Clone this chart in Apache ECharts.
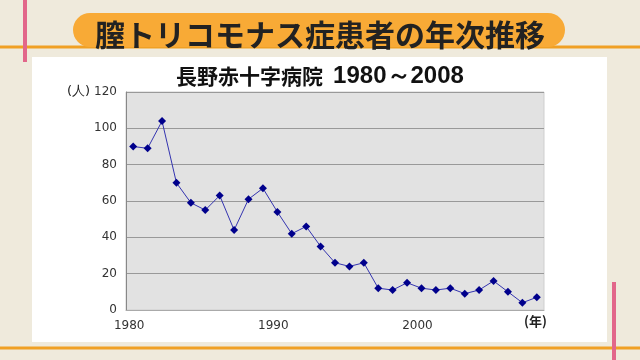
<!DOCTYPE html>
<html>
<head>
<meta charset="utf-8">
<script src="https://cdn.jsdelivr.net/npm/echarts@6/dist/echarts.min.js"></script>
<style>html,body{margin:0;padding:0;background:#efeadc;}#c{width:640px;height:360px;}</style>
</head>
<body>
<div id="c"></div>
<script>
const pageTitle = '膣トリコモナス症患者の年次推移';
const chartTitle = '長野赤十字病院';
const chartRange = '1980～2008';
const years = ['1980','1981','1982','1983','1984','1985','1986','1987','1988','1989','1990','1991','1992','1993','1994','1995','1996','1997','1998','1999','2000','2001','2002','2003','2004','2005','2006','2007','2008'];
const patients = [90, 89, 104, 70, 59, 55, 63, 44, 61, 67, 54, 42, 46, 35, 26, 24, 26, 12, 11, 15, 12, 11, 12, 9, 11, 16, 10, 4, 7];
const yUnit = '(人)';
const xUnit = '(年)';

const chart = echarts.init(document.getElementById('c'), null, {renderer: 'canvas'});
chart.setOption({
  backgroundColor: '#efeadc',
  animation: false,
  graphic: [
    {type: 'line', z: -20, shape: {x1: 0, y1: 47, x2: 640, y2: 47}, style: {stroke: '#f0a024', lineWidth: 3}},
    {type: 'line', z: -20, shape: {x1: 0, y1: 348, x2: 640, y2: 348}, style: {stroke: '#f0a024', lineWidth: 3}},
    {type: 'line', z: -20, shape: {x1: 25, y1: 0, x2: 25, y2: 62}, style: {stroke: '#e2668a', lineWidth: 4}},
    {type: 'line', z: -20, shape: {x1: 614, y1: 282, x2: 614, y2: 360}, style: {stroke: '#e2668a', lineWidth: 4}},
    {type: 'rect', z: -10, shape: {x: 32, y: 57, width: 575, height: 285}, style: {fill: '#ffffff'}},
    {type: 'rect', z: -10, shape: {x: 73, y: 13, width: 492, height: 34, r: 17}, style: {fill: '#f8aa36'}},
    {type: 'text', z: 5, left: 67, top: 85, style: {text: yUnit, font: '13px "DejaVu Sans"', fill: '#222'}},
    {type: 'text', z: 5, left: 524, top: 315, style: {text: xUnit, font: 'bold 13px "Noto Sans CJK JP"', fill: '#222'}}
  ],
  title: [
    {text: pageTitle, left: 'center', top: 13, textStyle: {fontFamily: 'Noto Sans CJK JP', fontWeight: 'bold', fontSize: 30, color: '#222', lineHeight: 34}},
    {text: '{a|' + chartTitle + '}  {b|' + chartRange + '}', left: 'center', top: 59,
     textStyle: {rich: {a: {fontFamily: 'Noto Sans CJK JP', fontWeight: 'bold', fontSize: 21, color: '#111'}, b: {fontFamily: 'Liberation Sans', fontSize: 24, color: '#111'}}}}
  ],
  grid: {left: 126, right: 96, top: 92, bottom: 50, show: true, backgroundColor: '#e2e2e2', borderColor: '#cfcfcf', borderWidth: 1},
  xAxis: {
    type: 'category', data: years, boundaryGap: true,
    axisTick: {show: false},
    axisLine: {lineStyle: {color: '#aaa', width: 1}},
    axisLabel: {interval: (i) => i % 10 === 0, margin: 10, padding: [0, 8, 0, 0], fontFamily: 'DejaVu Sans', fontSize: 12, color: '#333'}
  },
  yAxis: {
    type: 'value', min: 0, max: 120, interval: 20,
    axisLine: {show: true, lineStyle: {color: '#888', width: 1}},
    axisTick: {show: false},
    splitLine: {lineStyle: {color: '#999', width: 1}},
    axisLabel: {margin: 9, fontFamily: 'DejaVu Sans', fontSize: 12, color: '#333'}
  },
  series: [{
    type: 'line', data: patients,
    symbol: 'diamond', symbolSize: 8,
    lineStyle: {color: '#3434b0', width: 1},
    itemStyle: {color: '#00008c'}
  }]
});
</script>
</body>
</html>
